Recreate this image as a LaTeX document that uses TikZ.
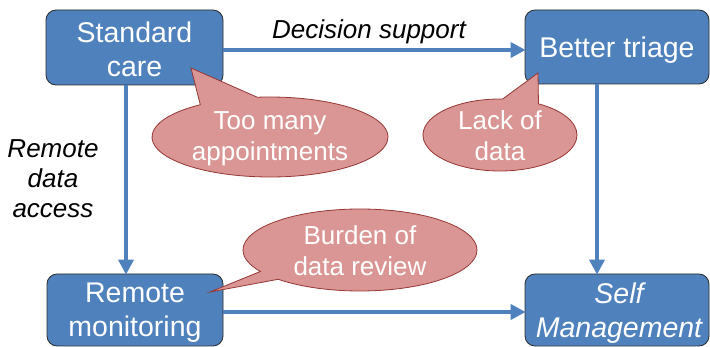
\documentclass[tikz,border=0pt]{standalone}
\usepackage{fontspec}
\setmainfont{Liberation Sans}
\usetikzlibrary{arrows.meta,shapes.callouts}

\definecolor{boxblue}{HTML}{4F81BD}
\definecolor{boxedge}{HTML}{2B2B2B}
\definecolor{callfill}{HTML}{D99694}
\definecolor{calledge}{HTML}{953735}

\tikzset{
  stagebox/.style={draw=boxedge, line width=0.8pt, fill=boxblue, rounded corners=10pt,
    inner sep=0pt},
  stagetext/.style={text=white, align=center, inner sep=0pt,
    font=\fontsize{28.5}{34}\selectfont},
  flow/.style={draw=boxblue, line width=4pt,
    -{Triangle[length=15pt,width=15pt]}, shorten >=-1pt},
  bubble/.style={ellipse callout, draw=calledge, line width=0.8pt, fill=callfill,
    inner sep=0pt, outer sep=0pt},
  bubbletext/.style={text=white, align=center, inner sep=0pt,
    font=\fontsize{26}{31}\selectfont},
  flowlabel/.style={align=center, inner sep=0pt,
    font=\fontsize{26}{30}\selectfont\itshape},
}

\begin{document}
\begin{tikzpicture}[x=1pt, y=-1pt]
  \useasboundingbox (0,0) rectangle (710,347);

  % the four stages
  \node[stagebox, minimum width=177pt, minimum height=75pt] (care) at (134.5,47.5) {};
  \node[stagebox, minimum width=184pt, minimum height=74pt] (triage) at (617,47) {};
  \node[stagebox, minimum width=176pt, minimum height=72pt] (remote) at (135,310) {};
  \node[stagebox, minimum width=184pt, minimum height=72pt] (self) at (617,310) {};

  \node[stagetext] (caretext) at ([yshift=-2pt]care.center) {Standard\\care};
  \node[stagetext] (triagetext) at ([yshift=-3pt]triage.center) {Better triage};
  \node[stagetext] (remotetext) at ([yshift=-3pt]remote.center) {Remote\\monitoring};
  \node[stagetext, font=\fontsize{28.5}{34}\selectfont\itshape] (selftext)
    at ([xshift=2pt,yshift=-3pt]self.center) {Self\\Management};

  % transitions between stages
  \draw[flow] (care.east |- 0,50) -- (triage.west |- 0,50);
  \draw[flow] (care.south -| 126,0) -- (remote.north -| 126,0);
  \draw[flow] (triage.south -| 597,0) -- (self.north -| 597,0);
  \draw[flow] (remote.east |- 0,312) -- (self.west |- 0,312);

  \node[flowlabel, anchor=base] (dslabel) at (369,38.5) {Decision support};
  \node[flowlabel] (rdlabel) at (53,178.5) {Remote\\data\\access};

  % barriers
  \coordinate (tipcare) at (191,68);
  \coordinate (tiptriage) at (538,73);
  \coordinate (tipremote) at (210,292);

  \node[bubble, minimum width=236pt, minimum height=80pt, callout pointer arc=30,
        callout absolute pointer={(tipcare)}] (toomany) at (270,137) {};
  \node[bubble, minimum width=154pt, minimum height=72pt, callout pointer arc=28,
        callout absolute pointer={(tiptriage)}] (lack) at (500,135) {};
  \node[bubble, minimum width=234pt, minimum height=82pt, callout pointer arc=14,
        callout absolute pointer={(tipremote)}] (burden) at (360,250) {};

  \node[bubbletext] (toomanytext) at ([yshift=-1.5pt]toomany.center) {Too many\\appointments};
  \node[bubbletext] (lacktext) at ([yshift=-1pt]lack.center) {Lack of\\data};
  \node[bubbletext] (burdentext) at ([yshift=-1pt]burden.center) {Burden of\\data review};
\end{tikzpicture}
\end{document}
